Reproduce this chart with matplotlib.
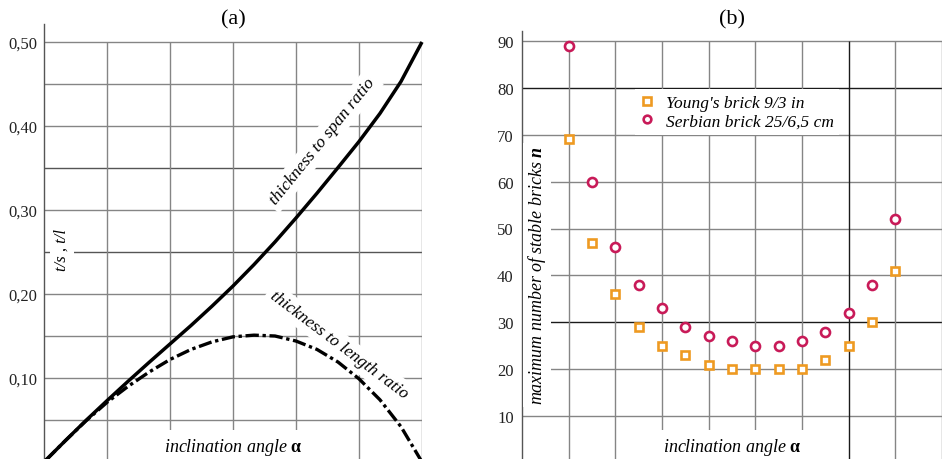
import matplotlib
matplotlib.use("Agg")
import matplotlib.pyplot as plt

plt.rcParams['font.family'] = ['Liberation Serif', 'DejaVu Serif']
plt.rcParams['mathtext.fontset'] = 'custom'
plt.rcParams['mathtext.rm'] = 'Liberation Serif'
plt.rcParams['mathtext.it'] = 'Liberation Serif:italic'
plt.rcParams['mathtext.bf'] = 'Liberation Serif:bold'
plt.rcParams['mathtext.bfit'] = 'Liberation Serif:italic:bold'

# ---- data, panel (a) ----
angle_a = [0, 5, 10, 15, 20, 25, 30, 35, 40, 45, 50, 55, 60, 65, 70, 75, 80, 85, 90]
span_ratio = [0.000, 0.025, 0.0495, 0.073, 0.096, 0.1185, 0.1405, 0.1625, 0.1855, 0.2095,
              0.235, 0.262, 0.2905, 0.320, 0.3505, 0.3815, 0.415, 0.453, 0.500]
length_ratio = [0.000, 0.025, 0.049, 0.071, 0.090, 0.107, 0.122, 0.134, 0.143, 0.149,
                0.151, 0.150, 0.144, 0.134, 0.119, 0.099, 0.074, 0.042, 0.000]
yticks_a = [0.10, 0.20, 0.30, 0.40, 0.50]
ytick_labels_a = ['0,10', '0,20', '0,30', '0,40', '0,50']

# ---- data, panel (b) ----
angle_b = [10, 15, 20, 25, 30, 35, 40, 45, 50, 55, 60, 65, 70, 75, 80]
young = [69, 47, 36, 29, 25, 23, 21, 20, 20, 20, 20, 22, 25, 30, 41]
serbian = [89, 60, 46, 38, 33, 29, 27, 26, 25, 25, 26, 28, 32, 38, 52]
yticks_b = [10, 20, 30, 40, 50, 60, 70, 80, 90]

W, H = 951, 460
fig = plt.figure(figsize=(W / 100, H / 100), dpi=100)

GRID = '#858585'
DARK = '#555555'
SPINE = '#555555'

# ================= panel (a) =================
axa = fig.add_axes([44 / W, 0, 378 / W, (460 - 25) / H])
axa.set_xlim(0, 90)
axa.set_ylim((463 - 460) / 840, (463 - 25) / 840)
for s in ['top', 'right', 'bottom']:
    axa.spines[s].set_visible(False)
axa.spines['left'].set_color(SPINE)
axa.spines['left'].set_linewidth(1.0)
axa.set_xticks([])
axa.set_yticks(yticks_a)
axa.set_yticklabels(ytick_labels_a, fontsize=12)
axa.tick_params(axis='y', length=0, pad=5, colors='#222222')

for v in [0.05, 0.10, 0.15, 0.20, 0.25, 0.30, 0.35, 0.40, 0.45, 0.50]:
    c = DARK if v in (0.25, 0.35) else GRID
    axa.hlines(v, 0, 90, colors=c, lw=1.0, zorder=0.5)
for xg in [15, 30, 45, 60, 75, 90]:
    axa.vlines(xg, axa.get_ylim()[0], 0.50, colors=GRID, lw=1.0, zorder=0.5)

axa.plot(angle_a, span_ratio, color='black', lw=2.5, zorder=4, clip_on=False,
         solid_capstyle='butt', solid_joinstyle='round')
ln, = axa.plot(angle_a, length_ratio, color='black', lw=2.4, zorder=4, clip_on=False)
ln.set_dashes((4, 1.1, 1.0, 1.1))

box = dict(facecolor='white', edgecolor='none', pad=3)
axa.text(4.3, 0.253, 't/s , t/l', rotation=90, style='italic', fontsize=12,
         ha='center', va='center', bbox=box, zorder=3)
axa.text(66.2, 0.382, 'thickness to span ratio', rotation=51, rotation_mode='anchor',
         style='italic', fontsize=12.5, ha='center', va='center', bbox=box, zorder=3)
axa.text(70.2, 0.140, 'thickness to length ratio', rotation=-37, rotation_mode='anchor',
         style='italic', fontsize=12.5, ha='center', va='center', bbox=box, zorder=3)
axa.text(45, 0.019, r'$\mathit{inclination\ angle}\ \mathbf{\alpha}$', fontsize=13,
         ha='center', va='center', bbox=dict(facecolor='white', edgecolor='none', pad=4),
         zorder=3)

fig.text(233 / W, 1 - 20 / H, '(a)', fontsize=16, ha='center', va='center')

# ================= panel (b) =================
axb = fig.add_axes([522 / W, 0, 420 / W, (460 - 32) / H])
axb.set_xlim(0, 90)
axb.set_ylim((464 - 460) / 4.69, (464 - 32) / 4.69)
for s in ['top', 'right', 'bottom']:
    axb.spines[s].set_visible(False)
axb.spines['left'].set_color(SPINE)
axb.spines['left'].set_linewidth(1.0)
axb.set_xticks([])
axb.set_yticks(yticks_b)
axb.set_yticklabels([str(t) for t in yticks_b], fontsize=12)
axb.tick_params(axis='y', length=0, pad=6, colors='#222222')

for v in yticks_b:
    c = '#1a1a1a' if v in (80, 30) else GRID
    axb.hlines(v, 0, 90, colors=c, lw=1.0, zorder=0.5)
for xg in range(10, 91, 10):
    c = '#1a1a1a' if xg == 70 else GRID
    axb.vlines(xg, axb.get_ylim()[0], 90, colors=c, lw=1.0, zorder=0.5)

ORANGE = '#ee9a22'
CRIMSON = '#c81a58'
axb.plot(angle_b, young, ls='none', marker='s', ms=6.2, mfc='white', mec=ORANGE,
         mew=1.9, zorder=4, clip_on=False, label="Young's brick 9/3 in")
axb.plot(angle_b, serbian, ls='none', marker='o', ms=6.5, mfc='white', mec=CRIMSON,
         mew=1.9, zorder=4, clip_on=False, label='Serbian brick 25/6,5 cm')

leg = axb.legend(loc='center', bbox_to_anchor=(737 / W, 1 - 113 / H),
                 bbox_transform=fig.transFigure, frameon=True, fancybox=False,
                 edgecolor='none', facecolor='white', framealpha=1,
                 prop={'family': 'Liberation Serif', 'style': 'italic', 'size': 12.5},
                 handlelength=0.8, handletextpad=0.7, labelspacing=0.15,
                 borderpad=0.3, markerscale=0.85)
leg.set_zorder(5)

axb.text(3.2, 40.1, r'$\mathit{maximum\ number\ of\ stable\ bricks}\ \mathbfit{n}$',
         rotation=90, fontsize=13, ha='center', va='center',
         bbox=dict(facecolor='white', edgecolor='none', pad=2), zorder=3)
axb.text(45, 3.6, r'$\mathit{inclination\ angle}\ \mathbf{\alpha}$', fontsize=13,
         ha='center', va='center', bbox=dict(facecolor='white', edgecolor='none', pad=4),
         zorder=3)

fig.text(732 / W, 1 - 20 / H, '(b)', fontsize=16, ha='center', va='center')

fig.savefig('out.png', dpi=100)
